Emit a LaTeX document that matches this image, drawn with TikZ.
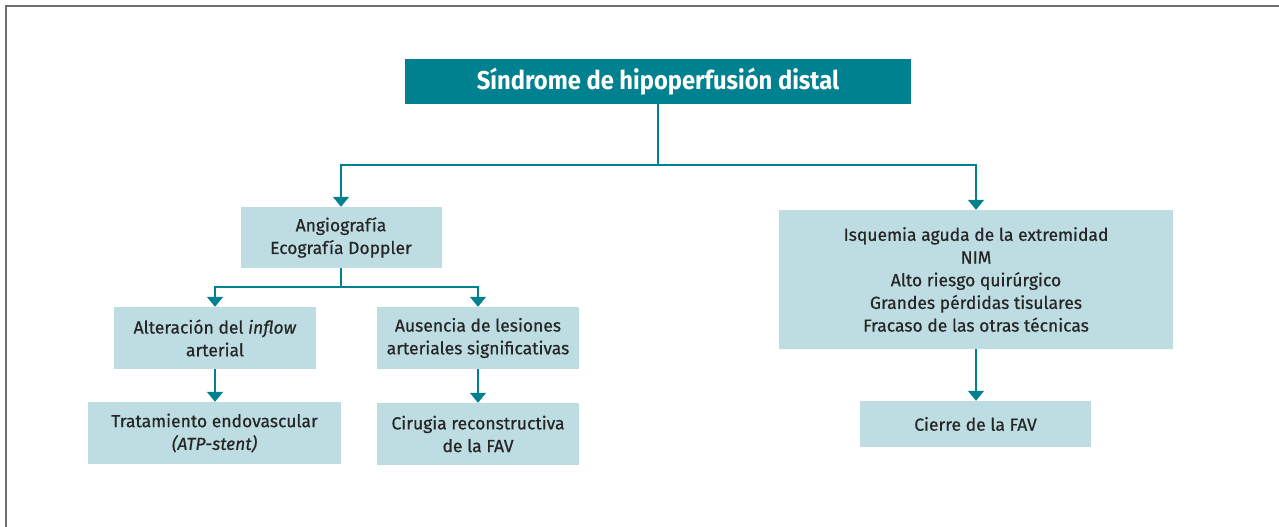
\documentclass[tikz,border=0pt]{standalone}
\usepackage{fontspec}
\setmainfont{Fira Sans}[FakeBold=0.6]
\newfontfamily\titlefont{Fira Sans}[FakeStretch=0.92]
\usetikzlibrary{arrows.meta}
\definecolor{teal1}{HTML}{00818F}
\definecolor{lblue}{HTML}{BEDDE2}
\definecolor{txt}{HTML}{262626}
\definecolor{frame}{HTML}{707070}
\begin{document}
\begin{tikzpicture}[x=1pt,y=-1pt,
  box/.style={fill=lblue,inner sep=0pt,align=center,text=txt,font=\fontsize{17.5}{22.7}\selectfont},
  titlebox/.style={fill=teal1,inner sep=0pt,align=center,text=white,font=\titlefont\fontsize{25.8}{28}\selectfont\bfseries},
  conn/.style={draw=teal1,line width=1.4pt},
  arr/.style={conn,-{Triangle[width=16pt,length=10pt]}}]
\useasboundingbox (0,0) rectangle (1279,527);
\draw[frame,line width=2pt] (1279,6) -- (6,6) -- (6,527);
\node[titlebox,minimum width=506pt,minimum height=45pt] (title) at (658,81.5) {Síndrome de hipoperfusión distal};
\node[box,minimum width=201pt,minimum height=61pt] (angio) at (341,237.5) {Angiografía\\Ecografía Doppler};
\node[box,minimum width=202pt,minimum height=62pt] (alter) at (215,338) {Alteración del \textit{inflow}\\arterial};
\node[box,minimum width=202pt,minimum height=62pt] (aus) at (478,338) {Ausencia de lesiones\\arteriales significativas};
\node[box,minimum width=253pt,minimum height=62pt] (trat) at (214.5,433) {Tratamiento endovascular\\\textit{(ATP-stent)}};
\node[box,minimum width=202pt,minimum height=62pt] (cir) at (478,434) {Cirugia reconstructiva\\de la FAV};
\node[box,minimum width=394pt,minimum height=139pt] (isq) at (976,279.5) {Isquemia aguda de la extremidad\\NIM\\Alto riesgo quirúrgico\\Grandes pérdidas tisulares\\Fracaso de las otras técnicas};
\node[box,minimum width=231pt,minimum height=46pt] (cierre) at (975.5,424) {Cierre de la FAV};
\coordinate (j1) at (658,165);
\coordinate (j2) at (341,287);
\draw[conn] (title.south) -- (j1);
\draw[arr] (j1) -| (angio.north);
\draw[arr] (j1) -| (isq.north);
\draw[conn] (angio.south) -- (j2);
\draw[arr] (j2) -| (alter.north);
\draw[arr] (j2) -| (aus.north);
\draw[arr] (alter.south) -- (trat.north -| alter.south);
\draw[arr] (aus.south) -- (cir.north -| aus.south);
\draw[arr] (isq.south) -- (cierre.north -| isq.south);
\end{tikzpicture}
\end{document}
